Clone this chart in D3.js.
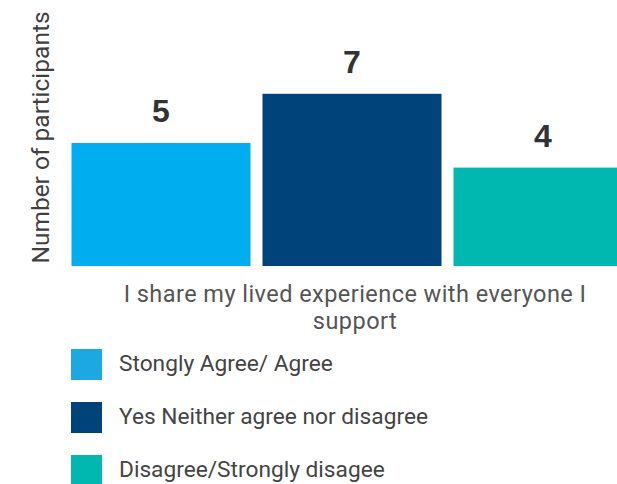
<!DOCTYPE html>
<html>
<head>
<meta charset="utf-8">
<script src="https://cdn.jsdelivr.net/npm/d3@7"></script>
<style>
  body { margin: 0; background: #fff; }
  svg { display: block; }
</style>
</head>
<body>
<script>
var categories = ["Stongly Agree/ Agree", "Yes Neither agree nor disagree", "Disagree/Strongly disagee"];
var values = [5, 7, 4];
var colors = ["#00AEEF", "#00427A", "#00B8B0"];
var legendColors = ["#1CA9E1", "#00427A", "#00B8B0"];
var titleLines = ["I share my lived experience with everyone I", "support"];
var yLabel = "Number of participants";

var w = 617;
var h = 484;
var baseY = 266;

var svg = d3.select("body").append("svg")
    .attr("width", w)
    .attr("height", h);

var x = d3.scaleBand()
    .domain(categories)
    .range([71.5, 632.5])
    .paddingInner(12 / 191)
    .paddingOuter(0);

var y = d3.scaleLinear()
    .domain([0, 7])
    .range([baseY, baseY - 7 * 24.6]);

// bars
svg.selectAll("rect.bar")
    .data(values)
    .enter()
    .append("rect")
    .attr("class", "bar")
    .attr("x", function(d, i) { return x(categories[i]); })
    .attr("y", function(d) { return y(d); })
    .attr("width", x.bandwidth())
    .attr("height", function(d) { return y(0) - y(d); })
    .attr("fill", function(d, i) { return colors[i]; });

// value labels
svg.selectAll("text.val")
    .data(values)
    .enter()
    .append("text")
    .attr("class", "val")
    .text(function(d) { return d; })
    .attr("x", function(d, i) { return x(categories[i]) + x.bandwidth() / 2; })
    .attr("y", function(d) { return y(d) - 21; })
    .attr("text-anchor", "middle")
    .attr("font-family", "Liberation Sans, Arial, sans-serif")
    .attr("font-weight", "bold")
    .attr("font-size", 32)
    .attr("fill", "#333333");

// y axis title
svg.append("text")
    .text(yLabel)
    .attr("transform", "translate(49,137.5) rotate(-90)")
    .attr("text-anchor", "middle")
    .attr("font-family", "Roboto, sans-serif")
    .attr("font-size", 24.5)
    .attr("fill", "#404040");

// category axis title (two lines)
svg.selectAll("text.title")
    .data(titleLines)
    .enter()
    .append("text")
    .attr("class", "title")
    .text(function(d) { return d; })
    .attr("x", 355)
    .attr("y", function(d, i) { return 302 + i * 26.5; })
    .attr("text-anchor", "middle")
    .attr("font-family", "Roboto, sans-serif")
    .attr("font-size", 23.5)
    .attr("letter-spacing", 0.45)
    .attr("fill", "#555555");

// legend
var legend = svg.selectAll("g.legend")
    .data(categories)
    .enter()
    .append("g")
    .attr("class", "legend")
    .attr("transform", function(d, i) { return "translate(71," + (349 + i * 53) + ")"; });

legend.append("rect")
    .attr("width", 31)
    .attr("height", 31)
    .attr("fill", function(d, i) { return legendColors[i]; });

legend.append("text")
    .text(function(d) { return d; })
    .attr("x", 48)
    .attr("y", 22)
    .attr("font-family", "Roboto, sans-serif")
    .attr("font-size", 22.7)
    .attr("fill", "#444444");
</script>
</body>
</html>
